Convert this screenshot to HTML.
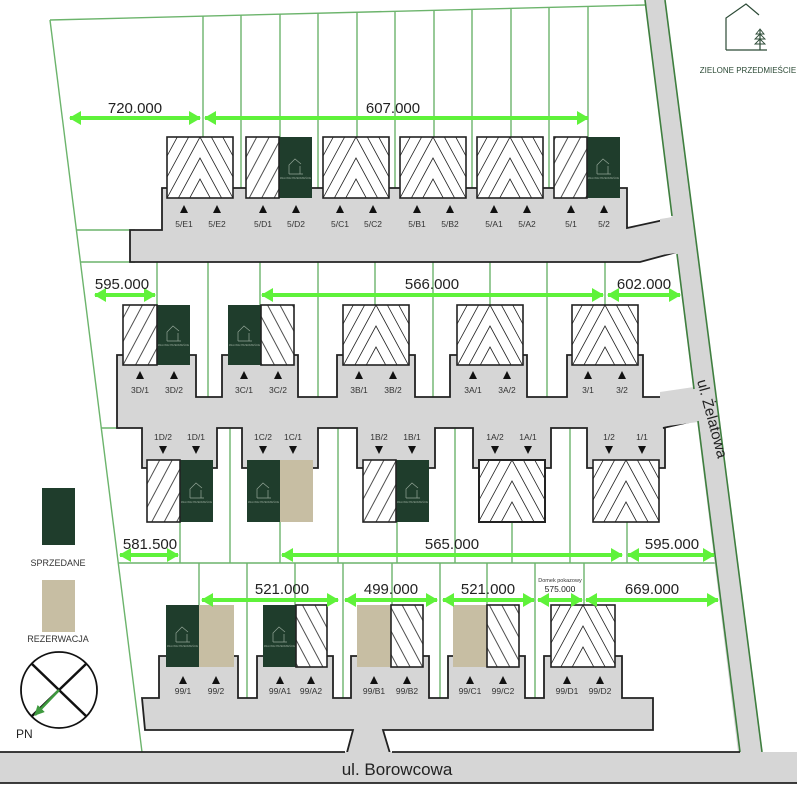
<!DOCTYPE html>
<html><head><meta charset="utf-8"><style>
html,body{margin:0;padding:0;background:#fff;width:797px;height:797px;overflow:hidden;}
svg{display:block;font-family:"Liberation Sans","DejaVu Sans",sans-serif;}
</style></head><body>
<svg id="s" width="797" height="797" viewBox="0 0 797 797" xmlns="http://www.w3.org/2000/svg">
<defs>
<pattern id="pf" width="11" height="11" patternUnits="userSpaceOnUse" patternTransform="rotate(28)"><rect width="11" height="11" fill="#fff"/><line x1="5" y1="0" x2="5" y2="11" stroke="#222" stroke-width="0.8"/></pattern>
<pattern id="pb" width="11" height="11" patternUnits="userSpaceOnUse" patternTransform="rotate(-28)"><rect width="11" height="11" fill="#fff"/><line x1="5" y1="0" x2="5" y2="11" stroke="#222" stroke-width="0.8"/></pattern>
<marker id="ah" markerUnits="userSpaceOnUse" markerWidth="12" markerHeight="14" refX="11" refY="7" orient="auto-start-reverse"><path d="M0,0 L12,7 L0,14 Z" fill="#5ff23a"/></marker>
<marker id="ag" markerUnits="userSpaceOnUse" markerWidth="10" markerHeight="10" refX="9" refY="5" orient="auto"><path d="M0,0 L10,5 L0,10 Z" fill="#3f9a3f"/></marker>
</defs>
<rect width="797" height="797" fill="#fff"/>

<g stroke="#6cb46c" stroke-width="1.4" fill="none">
<line x1="50" y1="20" x2="645" y2="5"/>
<line x1="50" y1="20" x2="142" y2="752"/>
<line x1="203" y1="16" x2="203" y2="200"/><line x1="241" y1="15" x2="241" y2="200"/><line x1="280" y1="14" x2="280" y2="200"/><line x1="318" y1="13" x2="318" y2="200"/><line x1="357" y1="12" x2="357" y2="200"/><line x1="395" y1="11" x2="395" y2="200"/><line x1="434" y1="10" x2="434" y2="200"/><line x1="472" y1="9" x2="472" y2="200"/><line x1="511" y1="8" x2="511" y2="200"/><line x1="549" y1="7" x2="549" y2="200"/><line x1="588" y1="6" x2="588" y2="200"/>
<line x1="76" y1="230" x2="135" y2="230"/>
<line x1="80" y1="262" x2="135" y2="262"/>
<line x1="157" y1="262" x2="157" y2="400"/><line x1="208" y1="262" x2="208" y2="400"/><line x1="260" y1="262" x2="260" y2="400"/><line x1="318" y1="262" x2="318" y2="400"/><line x1="375" y1="262" x2="375" y2="400"/><line x1="433" y1="262" x2="433" y2="400"/><line x1="490" y1="262" x2="490" y2="400"/><line x1="547" y1="262" x2="547" y2="400"/><line x1="605" y1="262" x2="605" y2="400"/>
<line x1="101" y1="428" x2="120" y2="428"/>
<line x1="180" y1="425" x2="180" y2="563"/><line x1="230" y1="425" x2="230" y2="563"/><line x1="280" y1="425" x2="280" y2="563"/><line x1="338" y1="425" x2="338" y2="563"/><line x1="397" y1="425" x2="397" y2="563"/><line x1="455" y1="425" x2="455" y2="563"/><line x1="512" y1="425" x2="512" y2="563"/><line x1="570" y1="425" x2="570" y2="563"/><line x1="627" y1="425" x2="627" y2="563"/>
<line x1="118" y1="563" x2="716" y2="563"/>
<line x1="199" y1="563" x2="199" y2="730"/><line x1="247" y1="563" x2="247" y2="730"/><line x1="295" y1="563" x2="295" y2="730"/><line x1="343" y1="563" x2="343" y2="730"/><line x1="392" y1="563" x2="392" y2="730"/><line x1="440" y1="563" x2="440" y2="730"/><line x1="487" y1="563" x2="487" y2="730"/><line x1="535" y1="563" x2="535" y2="730"/><line x1="584" y1="563" x2="584" y2="730"/>
</g>

<g fill="#d6d6d6" stroke="#222" stroke-width="1.8" stroke-linejoin="miter">
<path d="M162,188 L627,188 L627,228 L673,218 L677,252 L640,262 L130,262 L130,230 L162,230 Z"/>
<path d="M117,355 L196,355 L196,397 L222,397 L222,355 L298,355 L298,397 L337,397 L337,355 L415,355 L415,397 L450,397 L450,355 L527,355 L527,397 L567,397 L567,355 L643,355 L643,397 L663,397 L694,390 L698,420 L663,428 L665,428 L665,468 L587,468 L587,428 L551,428 L551,468 L473,468 L473,428 L435,428 L435,468 L357,468 L357,428 L318,428 L318,468 L242,468 L242,428 L217,428 L217,468 L142,468 L142,428 L117,428 Z"/>
<path d="M159,656 L238,656 L238,698 L257,698 L257,656 L333,656 L333,698 L351,698 L351,656 L429,656 L429,698 L448,698 L448,656 L525,656 L525,698 L544,698 L544,656 L622,656 L622,698 L653,698 L653,730 L383,730 L392,760 L345,760 L353,730 L145,730 L142,698 L159,698 Z"/>
</g>
<path d="M645,0 L665,0 L762,752 L738,752 Z" fill="#d6d6d6"/>
<path d="M660,219 L673,217 L682,217 L686,252 L677,253 L660,255 Z" fill="#d6d6d6"/>
<path d="M660,392 L694,387 L703,387 L707,422 L698,422 L660,427 Z" fill="#d6d6d6"/>
<g stroke="#3f7f3f" stroke-width="1.6" fill="none">
<path d="M645,0 L672,216"/><path d="M677,254 L694,389"/><path d="M698,421 L740,752"/>
<path d="M665,0 L762,752"/>
</g>
<rect x="0" y="752" width="797" height="31" fill="#d6d6d6"/>
<g stroke="#222" stroke-width="1.8">
<line x1="0" y1="752" x2="345" y2="752"/><line x1="392" y1="752" x2="740" y2="752"/>
<line x1="0" y1="783" x2="797" y2="783"/>
</g>
<text x="397" y="775" font-size="17" text-anchor="middle" fill="#222">ul. Borowcowa</text>
<text x="0" y="0" font-size="15" fill="#222" transform="translate(697,381) rotate(75)">ul. Żelatowa</text>

<g stroke="none">
<rect x="246" y="137" width="33" height="61" fill="url(#pf)"/><rect x="279" y="137" width="33" height="61" fill="#1f3d2c"/>
<rect x="554" y="137" width="33" height="61" fill="url(#pf)"/><rect x="587" y="137" width="33" height="61" fill="#1f3d2c"/>
<rect x="123" y="305" width="34" height="60" fill="url(#pf)"/><rect x="157" y="305" width="33" height="60" fill="#1f3d2c"/>
<rect x="228" y="305" width="33" height="60" fill="#1f3d2c"/><rect x="261" y="305" width="33" height="60" fill="url(#pb)"/>
<rect x="147" y="460" width="33" height="62" fill="url(#pf)"/><rect x="180" y="460" width="33" height="62" fill="#1f3d2c"/>
<rect x="247" y="460" width="33" height="62" fill="#1f3d2c"/><rect x="280" y="460" width="33" height="62" fill="#c7bea3"/>
<rect x="363" y="460" width="33" height="62" fill="url(#pf)"/><rect x="396" y="460" width="33" height="62" fill="#1f3d2c"/>
<rect x="166" y="605" width="33" height="62" fill="#1f3d2c"/><rect x="199" y="605" width="35" height="62" fill="#c7bea3"/>
<rect x="263" y="605" width="33" height="62" fill="#1f3d2c"/><rect x="296" y="605" width="31" height="62" fill="url(#pb)"/>
<rect x="357" y="605" width="34" height="62" fill="#c7bea3"/><rect x="391" y="605" width="32" height="62" fill="url(#pb)"/>
<rect x="453" y="605" width="34" height="62" fill="#c7bea3"/><rect x="487" y="605" width="32" height="62" fill="url(#pb)"/>
</g>
<g id="chev"></g>
<g fill="none" stroke="#222" stroke-width="1.6">
<rect x="246" y="137" width="33" height="61"/><rect x="554" y="137" width="33" height="61"/>
<rect x="123" y="305" width="34" height="60"/><rect x="261" y="305" width="33" height="60"/>
<rect x="147" y="460" width="33" height="62"/><rect x="363" y="460" width="33" height="62"/>
<rect x="296" y="605" width="31" height="62"/><rect x="391" y="605" width="32" height="62"/><rect x="487" y="605" width="32" height="62"/>
</g>

<g fill="none" stroke="#93a597" stroke-width="0.7">
<path d="M289,174 V165 L295,159 L301,164 M289,174 H303 M300,174 V166"/>
<path d="M597,174 V165 L603,159 L609,164 M597,174 H611 M608,174 V166"/>
<path d="M167,341 V332 L173,326 L179,331 M167,341 H181 M178,341 V333"/>
<path d="M238,341 V332 L244,326 L250,331 M238,341 H252 M249,341 V333"/>
<path d="M190,498 V489 L196,483 L202,488 M190,498 H204 M201,498 V490"/>
<path d="M257,498 V489 L263,483 L269,488 M257,498 H271 M268,498 V490"/>
<path d="M406,498 V489 L412,483 L418,488 M406,498 H420 M417,498 V490"/>
<path d="M176,642 V633 L182,627 L188,632 M176,642 H190 M187,642 V634"/>
<path d="M273,642 V633 L279,627 L285,632 M273,642 H287 M284,642 V634"/>
<path d="M52,524 V515 L58,509 L64,514 M52,524 H66 M63,524 V516"/>
</g>
<g font-size="2.6" fill="#93a597" text-anchor="middle">
<text x="295.5" y="179">ZIELONE PRZEDMIEŚCIE</text><text x="603.5" y="179">ZIELONE PRZEDMIEŚCIE</text>
<text x="173.5" y="346">ZIELONE PRZEDMIEŚCIE</text><text x="244.5" y="346">ZIELONE PRZEDMIEŚCIE</text>
<text x="196.5" y="503">ZIELONE PRZEDMIEŚCIE</text><text x="263.5" y="503">ZIELONE PRZEDMIEŚCIE</text><text x="412.5" y="503">ZIELONE PRZEDMIEŚCIE</text>
<text x="182.5" y="647">ZIELONE PRZEDMIEŚCIE</text><text x="279.5" y="647">ZIELONE PRZEDMIEŚCIE</text>
<text x="58.5" y="529">ZIELONE PRZEDMIEŚCIE</text>
</g>

<g fill="#111">
<path d="M180,213 L184,205 L188,213Z M213,213 L217,205 L221,213Z M259,213 L263,205 L267,213Z M292,213 L296,205 L300,213Z M336,213 L340,205 L344,213Z M369,213 L373,205 L377,213Z M413,213 L417,205 L421,213Z M446,213 L450,205 L454,213Z M490,213 L494,205 L498,213Z M523,213 L527,205 L531,213Z M567,213 L571,205 L575,213Z M600,213 L604,205 L608,213Z"/>
<path d="M136,379 L140,371 L144,379Z M170,379 L174,371 L178,379Z M240,379 L244,371 L248,379Z M274,379 L278,371 L282,379Z M355,379 L359,371 L363,379Z M389,379 L393,371 L397,379Z M469,379 L473,371 L477,379Z M503,379 L507,371 L511,379Z M584,379 L588,371 L592,379Z M618,379 L622,371 L626,379Z"/>
<path d="M159,446 L167,446 L163,454Z M192,446 L200,446 L196,454Z M259,446 L267,446 L263,454Z M289,446 L297,446 L293,454Z M375,446 L383,446 L379,454Z M408,446 L416,446 L412,454Z M491,446 L499,446 L495,454Z M524,446 L532,446 L528,454Z M605,446 L613,446 L609,454Z M638,446 L646,446 L642,454Z"/>
<path d="M179,684 L183,676 L187,684Z M212,684 L216,676 L220,684Z M276,684 L280,676 L284,684Z M307,684 L311,676 L315,684Z M370,684 L374,676 L378,684Z M403,684 L407,676 L411,684Z M466,684 L470,676 L474,684Z M499,684 L503,676 L507,684Z M563,684 L567,676 L571,684Z M596,684 L600,676 L604,684Z"/>
</g>
<g font-size="8.5" fill="#333" text-anchor="middle">
<text x="184" y="227">5/E1</text><text x="217" y="227">5/E2</text><text x="263" y="227">5/D1</text><text x="296" y="227">5/D2</text><text x="340" y="227">5/C1</text><text x="373" y="227">5/C2</text><text x="417" y="227">5/B1</text><text x="450" y="227">5/B2</text><text x="494" y="227">5/A1</text><text x="527" y="227">5/A2</text><text x="571" y="227">5/1</text><text x="604" y="227">5/2</text>
<text x="140" y="393">3D/1</text><text x="174" y="393">3D/2</text><text x="244" y="393">3C/1</text><text x="278" y="393">3C/2</text><text x="359" y="393">3B/1</text><text x="393" y="393">3B/2</text><text x="473" y="393">3A/1</text><text x="507" y="393">3A/2</text><text x="588" y="393">3/1</text><text x="622" y="393">3/2</text>
<text x="163" y="440">1D/2</text><text x="196" y="440">1D/1</text><text x="263" y="440">1C/2</text><text x="293" y="440">1C/1</text><text x="379" y="440">1B/2</text><text x="412" y="440">1B/1</text><text x="495" y="440">1A/2</text><text x="528" y="440">1A/1</text><text x="609" y="440">1/2</text><text x="642" y="440">1/1</text>
<text x="183" y="694">99/1</text><text x="216" y="694">99/2</text><text x="280" y="694">99/A1</text><text x="311" y="694">99/A2</text><text x="374" y="694">99/B1</text><text x="407" y="694">99/B2</text><text x="470" y="694">99/C1</text><text x="503" y="694">99/C2</text><text x="567" y="694">99/D1</text><text x="600" y="694">99/D2</text>
</g>

<g stroke="#5ff23a" stroke-width="4" fill="none" marker-start="url(#ah)" marker-end="url(#ah)">
<line x1="70" y1="118" x2="200" y2="118"/><line x1="205" y1="118" x2="588" y2="118"/>
<line x1="95" y1="295" x2="155" y2="295"/><line x1="262" y1="295" x2="603" y2="295"/><line x1="608" y1="295" x2="680" y2="295"/>
<line x1="120" y1="555" x2="178" y2="555"/><line x1="282" y1="555" x2="622" y2="555"/><line x1="628" y1="555" x2="714" y2="555"/>
<line x1="202" y1="600" x2="338" y2="600"/><line x1="345" y1="600" x2="437" y2="600"/><line x1="443" y1="600" x2="534" y2="600"/><line x1="538" y1="600" x2="582" y2="600"/><line x1="586" y1="600" x2="718" y2="600"/>
</g>
<g font-size="15" fill="#222" text-anchor="middle">
<text x="135" y="113">720.000</text><text x="393" y="113">607.000</text>
<text x="122" y="289">595.000</text><text x="432" y="289">566.000</text><text x="644" y="289">602.000</text>
<text x="150" y="549">581.500</text><text x="452" y="549">565.000</text><text x="672" y="549">595.000</text>
<text x="282" y="594">521.000</text><text x="391" y="594">499.000</text><text x="488" y="594">521.000</text><text x="652" y="594">669.000</text>
</g>
<text x="560" y="582" font-size="5.5" fill="#333" text-anchor="middle">Domek pokazowy</text>
<text x="560" y="592" font-size="8.5" fill="#222" text-anchor="middle">575.000</text>

<rect x="42" y="488" width="33" height="57" fill="#1f3d2c"/>
<text x="58" y="566" font-size="9" fill="#333" text-anchor="middle">SPRZEDANE</text>
<rect x="42" y="580" width="33" height="52" fill="#c7bea3"/>
<text x="58" y="642" font-size="9" fill="#333" text-anchor="middle">REZERWACJA</text>

<circle cx="59" cy="690" r="38" fill="none" stroke="#111" stroke-width="1.8"/>
<line x1="32" y1="664" x2="86" y2="716" stroke="#111" stroke-width="2.5"/>
<line x1="86" y1="664" x2="32" y2="716" stroke="#111" stroke-width="2.5"/>
<line x1="59" y1="690" x2="35" y2="715" stroke="#3f9a3f" stroke-width="2.5" marker-end="url(#ag)"/>
<text x="16" y="738" font-size="12" fill="#222">PN</text>

<path d="M726,50 V18 L746,4 L759,15 M726,50 H767 M760,50 V30" fill="none" stroke="#2c4a36" stroke-width="1.2"/>
<path d="M760,29 L756,34 H764 Z M760,34 L755,39 H765 Z M760,39 L755,44 H765 Z" fill="none" stroke="#2c4a36" stroke-width="0.9"/>
<text x="748" y="73" font-size="8" fill="#2c4a36" text-anchor="middle">ZIELONE PRZEDMIEŚCIE</text>
</svg>
<script>
(function(){
var NS="http://www.w3.org/2000/svg";
var g=document.getElementById("chev");
var defs=document.querySelector("defs");
var B=[[167,137,66,61],[323,137,66,61],[400,137,66,61],[477,137,66,61],
[343,305,66,60],[457,305,66,60],[572,305,66,60],
[479,460,66,62,2],[593,460,66,62],[551,605,64,62]];
B.forEach(function(b,i){
 var x=b[0],y=b[1],w=b[2],h=b[3];
 var cp=document.createElementNS(NS,"clipPath");cp.setAttribute("id","c"+i);
 var r=document.createElementNS(NS,"rect");r.setAttribute("x",x);r.setAttribute("y",y);r.setAttribute("width",w);r.setAttribute("height",h);
 cp.appendChild(r);defs.appendChild(cp);
 var bg=document.createElementNS(NS,"rect");bg.setAttribute("x",x);bg.setAttribute("y",y);bg.setAttribute("width",w);bg.setAttribute("height",h);bg.setAttribute("fill","#fff");g.appendChild(bg);
 var gg=document.createElementNS(NS,"g");gg.setAttribute("clip-path","url(#c"+i+")");
 var cx=x+w/2,s=1.85;
 var p="";
 for(var k=-7;k<=3;k++){
  var ay=y+k*21;
  var dx=(h+200)/s;
  p+="M"+(cx-dx)+","+(ay+dx*s)+" L"+cx+","+ay+" L"+(cx+dx)+","+(ay+dx*s)+" ";
 }
 var pa=document.createElementNS(NS,"path");pa.setAttribute("d",p);pa.setAttribute("fill","none");pa.setAttribute("stroke","#222");pa.setAttribute("stroke-width","0.8");
 gg.appendChild(pa);g.appendChild(gg);
 var o=document.createElementNS(NS,"rect");o.setAttribute("x",x);o.setAttribute("y",y);o.setAttribute("width",w);o.setAttribute("height",h);o.setAttribute("fill","none");o.setAttribute("stroke","#222");o.setAttribute("stroke-width",b[4]||1.6);
 g.appendChild(o);
});
})();
</script>
</body></html>
